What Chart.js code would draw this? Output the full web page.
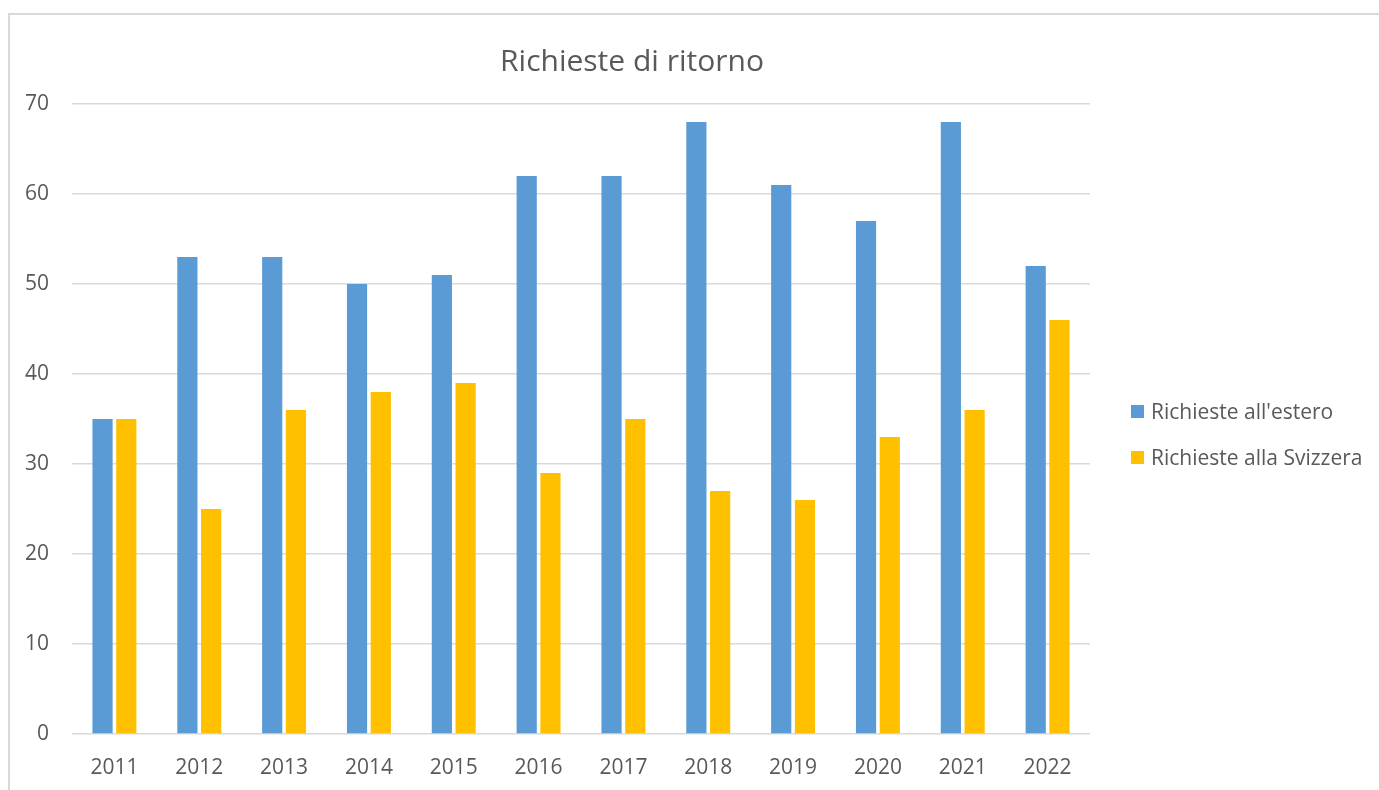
<!DOCTYPE html>
<html lang="it">
<head>
  <meta charset="UTF-8">
  <title>Richieste di ritorno</title>
  <script src="https://cdn.jsdelivr.net/npm/chart.js"></script>
  <style>
    body { margin: 0; background: #fff; font-family: "Open Sans", sans-serif; }
    .wrap { position: relative; width: 1379px; height: 790px; overflow: hidden; }
    .frame { position: absolute; left: 8px; top: 13px; width: 1500px; height: 900px; border: 2px solid #d9d9d9; }
    .title { position: absolute; left: 0; width: 1264px; top: 39px; text-align: center; font-size: 30px; color: #595959; }
    .legend { position: absolute; left: 1131px; top: 397px; font-size: 21px; color: #595959; }
    .legend div { height: 46px; display: flex; align-items: flex-start; }
    .legend span.box { display: inline-block; width: 13px; height: 13px; margin: 8px 7px 0 0; }
    canvas { position: absolute; left: 0; top: 0; }
  </style>
</head>
<body>
  <div class="wrap">
    <div class="frame"></div>
    <canvas id="chart" width="1379" height="790"></canvas>
    <div class="title">Richieste di ritorno</div>
    <div class="legend" id="legend"></div>
  </div>
  <script>
    const years = ['2011', '2012', '2013', '2014', '2015', '2016', '2017', '2018', '2019', '2020', '2021', '2022'];
    const estero = [35, 53, 53, 50, 51, 62, 62, 68, 61, 57, 68, 52];
    const svizzera = [35, 25, 36, 38, 39, 29, 35, 27, 26, 33, 36, 46];
    const seriesNames = ["Richieste all'estero", 'Richieste alla Svizzera'];
    const seriesColors = ['#5b9bd5', '#ffc000'];

    const grey = '#595959';

    const chart = new Chart(document.getElementById('chart'), {
      type: 'bar',
      data: {
        labels: years,
        datasets: [
          { label: seriesNames[0], data: estero, backgroundColor: seriesColors[0] },
          { label: seriesNames[1], data: svizzera, backgroundColor: seriesColors[1] }
        ]
      },
      options: {
        responsive: false,
        animation: false,
        layout: { padding: { left: 0, right: 289, top: 104, bottom: 0 } },
        plugins: {
          legend: { display: false },
          title: { display: false },
          tooltip: { enabled: false }
        },
        datasets: { bar: { categoryPercentage: 0.56, barPercentage: 0.85 } },
        scales: {
          x: {
            grid: { display: false },
            border: { display: false },
            ticks: { color: grey, font: { family: 'Open Sans', size: 21 }, padding: 13 },
            afterFit: function(scale) { scale.height = 56; }
          },
          y: {
            min: 0,
            max: 70,
            ticks: { stepSize: 10, color: grey, font: { family: 'Open Sans', size: 21 }, padding: 23 },
            grid: { color: '#d9d9d9', lineWidth: 1.5, drawTicks: false },
            border: { display: false },
            afterFit: function(scale) { scale.width = 72; }
          }
        }
      }
    });

    const legend = document.getElementById('legend');
    seriesNames.forEach(function(name, i) {
      const row = document.createElement('div');
      row.innerHTML = '<span class="box" style="background:' + seriesColors[i] + '"></span>' + name;
      legend.appendChild(row);
    });
  </script>
</body>
</html>
